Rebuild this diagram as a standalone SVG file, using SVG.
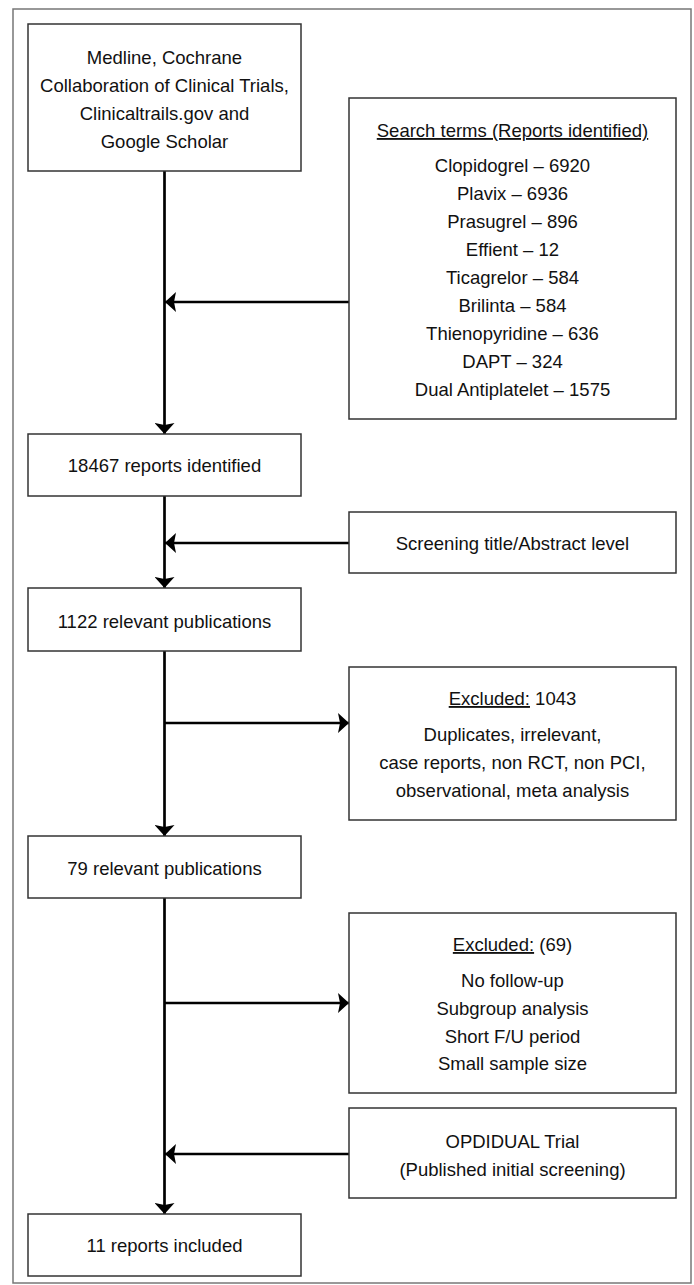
<svg xmlns="http://www.w3.org/2000/svg" width="694" height="1285" viewBox="0 0 694 1285">
<defs>
<style>
.box{fill:#fff;stroke:#333;stroke-width:1.5}
.frame{fill:#fff;stroke:#777;stroke-width:1.5}
.t{font-family:"Liberation Sans",Arial,sans-serif;font-size:18.5px;fill:#111;text-anchor:middle}
.u{text-decoration:underline}
.c{stroke:#000;stroke-width:2.7;fill:none}
.ah{fill:#000}
</style>
<marker id="arr" viewBox="0 0 11 20" refX="11" refY="10" markerWidth="11" markerHeight="20" markerUnits="userSpaceOnUse" orient="auto">
<path d="M0,0 L11,10 L0,20 L2,10 Z" class="ah"/>
</marker>
</defs>
<rect class="frame" x="13" y="9" width="678" height="1274"/>
<g id="connectors">
<line class="c" x1="164.5" y1="171" x2="164.5" y2="434" marker-end="url(#arr)"/>
<line class="c" x1="349" y1="302" x2="165" y2="302" marker-end="url(#arr)"/>
<line class="c" x1="164.5" y1="496" x2="164.5" y2="588" marker-end="url(#arr)"/>
<line class="c" x1="349" y1="543" x2="165" y2="543" marker-end="url(#arr)"/>
<line class="c" x1="164.5" y1="651" x2="164.5" y2="836" marker-end="url(#arr)"/>
<line class="c" x1="164.5" y1="723" x2="349" y2="723" marker-end="url(#arr)"/>
<line class="c" x1="164.5" y1="898" x2="164.5" y2="1214" marker-end="url(#arr)"/>
<line class="c" x1="164.5" y1="1003" x2="349" y2="1003" marker-end="url(#arr)"/>
<line class="c" x1="349" y1="1154" x2="165" y2="1154" marker-end="url(#arr)"/>
</g>
<g id="sources">
<rect class="box" x="28" y="24" width="273" height="147"/>
<text class="t" x="164.5" y="64">Medline, Cochrane</text>
<text class="t" x="164.5" y="92">Collaboration of Clinical Trials,</text>
<text class="t" x="164.5" y="120">Clinicaltrails.gov and</text>
<text class="t" x="164.5" y="148">Google Scholar</text>
</g>
<g id="search-terms">
<rect class="box" x="349" y="98" width="327" height="321"/>
<text class="t u" x="512.5" y="137">Search terms (Reports identified)</text>
<text class="t" x="512.5" y="172">Clopidogrel – 6920</text>
<text class="t" x="512.5" y="200">Plavix – 6936</text>
<text class="t" x="512.5" y="228">Prasugrel – 896</text>
<text class="t" x="512.5" y="256">Effient – 12</text>
<text class="t" x="512.5" y="284">Ticagrelor – 584</text>
<text class="t" x="512.5" y="312">Brilinta – 584</text>
<text class="t" x="512.5" y="340">Thienopyridine – 636</text>
<text class="t" x="512.5" y="368">DAPT – 324</text>
<text class="t" x="512.5" y="396">Dual Antiplatelet – 1575</text>
</g>
<g id="identified">
<rect class="box" x="28" y="434" width="273" height="62"/>
<text class="t" x="164.5" y="472">18467 reports identified</text>
</g>
<g id="screening">
<rect class="box" x="349" y="512" width="327" height="61"/>
<text class="t" x="512.5" y="550">Screening title/Abstract level</text>
</g>
<g id="relevant-1122">
<rect class="box" x="28" y="588" width="273" height="63"/>
<text class="t" x="164.5" y="628">1122 relevant publications</text>
</g>
<g id="excluded-1043">
<rect class="box" x="349" y="667" width="327" height="153"/>
<text class="t" x="512.5" y="705"><tspan class="u">Excluded:</tspan> 1043</text>
<text class="t" x="512.5" y="741">Duplicates, irrelevant,</text>
<text class="t" x="512.5" y="769">case reports, non RCT, non PCI,</text>
<text class="t" x="512.5" y="797">observational, meta analysis</text>
</g>
<g id="relevant-79">
<rect class="box" x="28" y="836" width="273" height="62"/>
<text class="t" x="164.5" y="875">79 relevant publications</text>
</g>
<g id="excluded-69">
<rect class="box" x="349" y="913" width="327" height="180"/>
<text class="t" x="512.5" y="951"><tspan class="u">Excluded:</tspan> (69)</text>
<text class="t" x="512.5" y="987">No follow-up</text>
<text class="t" x="512.5" y="1015">Subgroup analysis</text>
<text class="t" x="512.5" y="1043">Short F/U period</text>
<text class="t" x="512.5" y="1070">Small sample size</text>
</g>
<g id="opdidual">
<rect class="box" x="349" y="1108" width="327" height="90"/>
<text class="t" x="512.5" y="1148">OPDIDUAL Trial</text>
<text class="t" x="512.5" y="1176">(Published initial screening)</text>
</g>
<g id="included">
<rect class="box" x="28" y="1214" width="273" height="62"/>
<text class="t" x="164.5" y="1252">11 reports included</text>
</g>
</svg>
